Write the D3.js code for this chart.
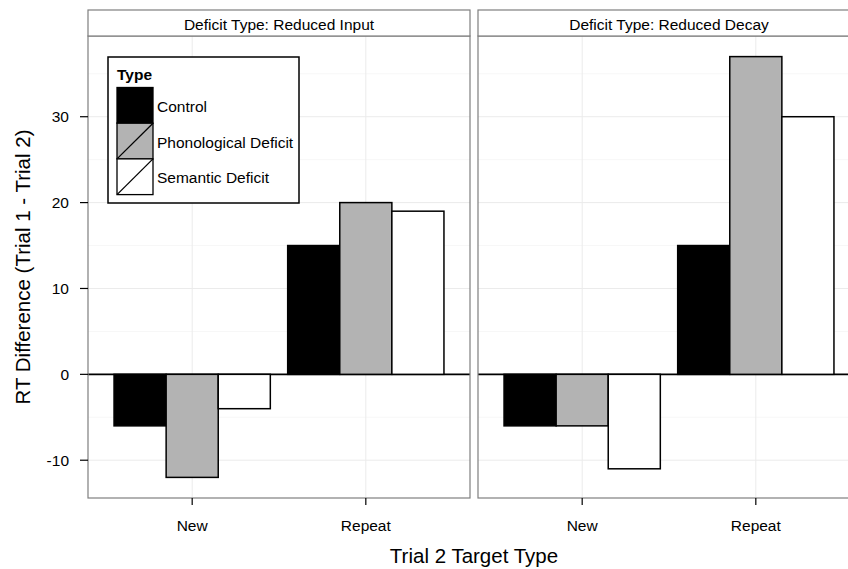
<!DOCTYPE html>
<html>
<head>
<meta charset="utf-8">
<script src="https://cdn.jsdelivr.net/npm/d3@7"></script>
<style>
  html, body { margin: 0; padding: 0; background: #fff; overflow: hidden; }
  svg { display: block; font-family: "Liberation Sans", Arial, Helvetica, sans-serif; }
</style>
</head>
<body>
<svg id="chart" width="848" height="569"></svg>
<script>
// ---- Data ----
const facets = ["Deficit Type: Reduced Input", "Deficit Type: Reduced Decay"];
const targetTypes = ["New", "Repeat"];
const groups = ["Control", "Phonological Deficit", "Semantic Deficit"];
const groupColors = ["#000000", "#b3b3b3", "#ffffff"];
// values[facet][targetType][group]
const reducedInput = [[-6, -12, -4], [15, 20, 19]];
const reducedDecay = [[-6, -6, -11], [15, 37, 30]];
const facetValues = [reducedInput, reducedDecay];
const yTicks = [-10, 0, 10, 20, 30];
const yMinor = [-5, 5, 15, 25, 35];
const legendTitle = "Type";
const yTitle = "RT Difference (Trial 1 - Trial 2)";
const xTitle = "Trial 2 Target Type";

// ---- Layout ----
const svg = d3.select("#chart");
const panelTop = 36, panelBottom = 498, stripTop = 10;
const panelW = 382, panelGap = 8, firstLeft = 88;
const smallFont = 15.5, titleFont = 20.5;
const y = d3.scaleLinear().domain([-14.4, 39.4]).range([panelBottom, panelTop]);

facets.forEach((fname, fi) => {
  const left = firstLeft + fi * (panelW + panelGap);
  const x = d3.scaleLinear().domain([0.4, 2.6]).range([left, left + panelW]);
  const xc = t => x(targetTypes.indexOf(t) + 1);
  const g = svg.append("g");

  g.append("rect").attr("x", left).attr("y", panelTop).attr("width", panelW)
    .attr("height", panelBottom - panelTop).attr("fill", "#fff");

  g.selectAll(".ymin").data(yMinor).enter().append("line")
    .attr("x1", left).attr("x2", left + panelW)
    .attr("y1", d => y(d)).attr("y2", d => y(d))
    .attr("stroke", "#f7f7f7").attr("stroke-width", 1);
  g.selectAll(".ymaj").data(yTicks).enter().append("line")
    .attr("x1", left).attr("x2", left + panelW)
    .attr("y1", d => y(d)).attr("y2", d => y(d))
    .attr("stroke", "#ebebeb").attr("stroke-width", 1);
  g.selectAll(".xmaj").data(targetTypes).enter().append("line")
    .attr("x1", d => xc(d)).attr("x2", d => xc(d))
    .attr("y1", panelTop).attr("y2", panelBottom)
    .attr("stroke", "#ebebeb").attr("stroke-width", 1);

  g.append("line").attr("x1", left).attr("x2", left + panelW)
    .attr("y1", y(0)).attr("y2", y(0)).attr("stroke", "#000").attr("stroke-width", 1.6);

  const barW = 0.3;
  targetTypes.forEach((t, ti) => {
    groups.forEach((grp, gi) => {
      const v = facetValues[fi][ti][gi];
      const cx = ti + 1 - 0.45 + barW * gi;
      g.append("rect")
        .attr("x", x(cx)).attr("width", x(cx + barW) - x(cx))
        .attr("y", y(Math.max(0, v))).attr("height", Math.abs(y(v) - y(0)))
        .attr("fill", groupColors[gi]).attr("stroke", "#000").attr("stroke-width", 1.5);
    });
  });

  g.append("rect").attr("x", left).attr("y", panelTop).attr("width", panelW)
    .attr("height", panelBottom - panelTop).attr("fill", "none")
    .attr("stroke", "#7f7f7f").attr("stroke-width", 1.2);

  g.append("rect").attr("x", left).attr("y", stripTop).attr("width", panelW)
    .attr("height", panelTop - stripTop).attr("fill", "#fff")
    .attr("stroke", "#7f7f7f").attr("stroke-width", 1.2);
  g.append("text").attr("x", left + panelW / 2).attr("y", 29.5)
    .attr("text-anchor", "middle").attr("font-size", smallFont).attr("fill", "#000").text(fname);

  const xa = g.append("g");
  targetTypes.forEach(t => {
    xa.append("line").attr("x1", xc(t)).attr("x2", xc(t))
      .attr("y1", panelBottom).attr("y2", panelBottom + 7)
      .attr("stroke", "#000").attr("stroke-width", 1.2);
    xa.append("text").attr("x", xc(t)).attr("y", panelBottom + 33)
      .attr("text-anchor", "middle").attr("font-size", smallFont).attr("fill", "#000").text(t);
  });

  if (fi === 0) {
    yTicks.forEach(v => {
      g.append("line").attr("x1", left - 8).attr("x2", left)
        .attr("y1", y(v)).attr("y2", y(v)).attr("stroke", "#000").attr("stroke-width", 1.2);
      g.append("text").attr("x", left - 19).attr("y", y(v) + 5.5)
        .attr("text-anchor", "end").attr("font-size", smallFont).attr("fill", "#000").text(v);
    });
  }
});

svg.append("text").attr("transform", `translate(30,${(panelTop + panelBottom) / 2}) rotate(-90)`)
  .attr("text-anchor", "middle").attr("font-size", titleFont).attr("fill", "#000").text(yTitle);
svg.append("text").attr("x", firstLeft + (2 * panelW + panelGap) / 2).attr("y", 563)
  .attr("text-anchor", "middle").attr("font-size", titleFont).attr("fill", "#000").text(xTitle);

// legend
const lg = svg.append("g");
lg.append("rect").attr("x", 108).attr("y", 57).attr("width", 191).attr("height", 146)
  .attr("fill", "#fff").attr("stroke", "#000").attr("stroke-width", 1.5);
lg.append("text").attr("x", 117).attr("y", 80).attr("font-size", smallFont).attr("font-weight", "bold")
  .attr("fill", "#000").text(legendTitle);
const keyH = 35.7, keyW = 36, keyX = 117, keyY0 = 87.5;
groups.forEach((grp, gi) => {
  const ky = keyY0 + gi * keyH;
  lg.append("rect").attr("x", keyX).attr("y", ky).attr("width", keyW).attr("height", keyH)
    .attr("fill", groupColors[gi]).attr("stroke", "#000").attr("stroke-width", 1.3);
  lg.append("line").attr("x1", keyX).attr("y1", ky + keyH).attr("x2", keyX + keyW).attr("y2", ky)
    .attr("stroke", "#000").attr("stroke-width", 1.3);
  lg.append("text").attr("x", 157).attr("y", ky + keyH / 2 + 6.5).attr("font-size", smallFont)
    .attr("fill", "#000").text(grp);
});
</script>
</body>
</html>
